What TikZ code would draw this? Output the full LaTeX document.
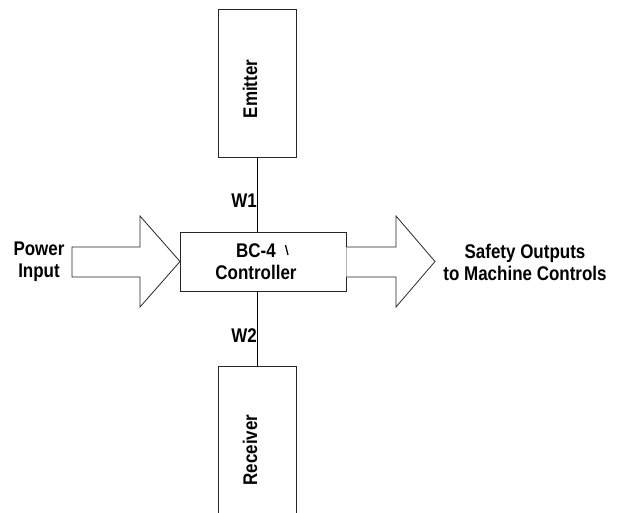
\documentclass[tikz,border=0pt]{standalone}
\usepackage{fontspec}
\setmainfont{Liberation Sans}
\newcommand{\tall}[1]{\scalebox{0.97}[1.13]{#1}}
\begin{document}
\begin{tikzpicture}[x=1pt,y=-1pt,
  box/.style={draw=black!85,line width=0.8pt,rectangle,inner sep=0pt},
  lbl/.style={font=\bfseries\fontsize{17.5}{22}\selectfont,inner sep=0pt,align=center},
  wire/.style={draw=black,line width=0.9pt},
  blockarrow/.style={draw=black!85,line width=0.8pt,fill=white}]
\useasboundingbox (0,0) rectangle (623,513);
\begin{scope}
\clip (0,0) rectangle (623,513);
% boxes
\node[box,minimum width=78pt,minimum height=148pt] (emit) at (257,83) {};
\node[box,minimum width=78pt,minimum height=154pt] (recv) at (257,443) {};
% block arrows
\coordinate (lt) at (180,261.5);
\draw[blockarrow] (72,247) -- (140,247) -- (140,216) -- (lt) -- (140,307) -- (140,277) -- (72,277) -- cycle;
\node[box,fill=white,minimum width=166pt,minimum height=59pt] (ctrl) at (263,261.5) {};
\coordinate (rt) at (435,261.5);
\draw[blockarrow] (ctrl.east |- 0,247) -- (396,247) -- (396,216) -- (rt) -- (396,307) -- (396,277) -- (ctrl.east |- 0,277);
% wires
\draw[wire] (emit.south) -- (emit.south |- ctrl.north);
\draw[wire] (recv.north |- ctrl.south) -- (recv.north);
% texts
\node[lbl,rotate=90] (emitt) at (250,89) {\tall{Emitter}};
\node[lbl,rotate=90] (recvt) at (250,450) {\tall{Receiver}};
\node[lbl] (ctrlt) at (256,262) {\tall{BC-4}\\\tall{Controller}};
\draw[line width=1.3pt] (285.5,245) -- (288,255);
\node[lbl,anchor=east] (w1) at (257,201) {\tall{W1}};
\node[lbl,anchor=east] (w2) at (257,335.5) {\tall{W2}};
\node[lbl] (pin) at (39,262) {\tall{Power}\\\tall{Input}};
\node[lbl] (sout) at (525,262) {\tall{Safety Outputs}\\\tall{to Machine Controls}};
\end{scope}
\end{tikzpicture}
\end{document}
